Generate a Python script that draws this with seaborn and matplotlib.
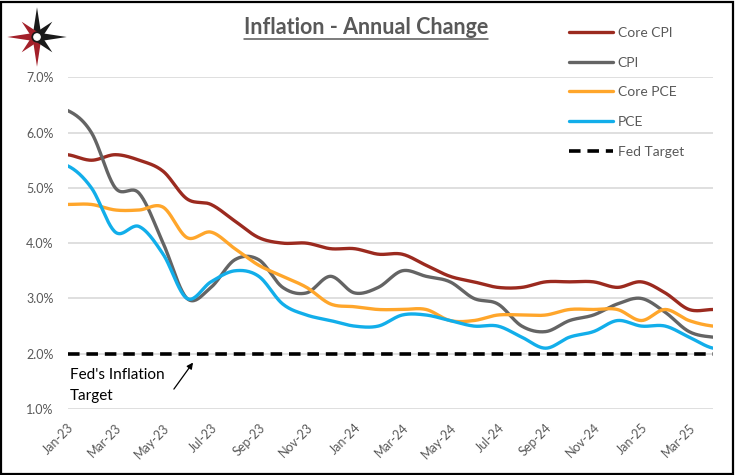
import numpy as np
import pandas as pd
import matplotlib
matplotlib.use("Agg")
import matplotlib.pyplot as plt
from matplotlib.lines import Line2D
from matplotlib.patches import Polygon, Circle, Rectangle
import seaborn as sns

# ---- data ----
months = ["Jan-23", "Feb-23", "Mar-23", "Apr-23", "May-23", "Jun-23", "Jul-23",
          "Aug-23", "Sep-23", "Oct-23", "Nov-23", "Dec-23", "Jan-24", "Feb-24",
          "Mar-24", "Apr-24", "May-24", "Jun-24", "Jul-24", "Aug-24", "Sep-24",
          "Oct-24", "Nov-24", "Dec-24", "Jan-25", "Feb-25", "Mar-25", "Apr-25"]
core_cpi = [5.6, 5.5, 5.6, 5.5, 5.3, 4.8, 4.7, 4.4, 4.1, 4.0, 4.0, 3.9, 3.9, 3.8,
            3.8, 3.6, 3.4, 3.3, 3.2, 3.2, 3.3, 3.3, 3.3, 3.2, 3.3, 3.1, 2.8, 2.8]
cpi = [6.4, 6.0, 5.0, 4.9, 4.0, 3.0, 3.2, 3.7, 3.7, 3.2, 3.1, 3.4, 3.1, 3.2,
       3.5, 3.4, 3.3, 3.0, 2.9, 2.5, 2.4, 2.6, 2.7, 2.9, 3.0, 2.75, 2.4, 2.3]
core_pce = [4.7, 4.7, 4.6, 4.6, 4.65, 4.1, 4.2, 3.9, 3.6, 3.4, 3.2, 2.9, 2.85, 2.8,
            2.8, 2.8, 2.6, 2.6, 2.7, 2.7, 2.7, 2.8, 2.8, 2.8, 2.6, 2.8, 2.6, 2.5]
pce = [5.4, 5.0, 4.2, 4.3, 3.8, 3.0, 3.3, 3.5, 3.4, 2.9, 2.7, 2.6, 2.5, 2.5,
       2.7, 2.7, 2.6, 2.5, 2.5, 2.3, 2.1, 2.3, 2.4, 2.6, 2.5, 2.5, 2.3, 2.1]
fed_target = [2.0] * len(months)

series_names = ["Core CPI", "CPI", "Core PCE", "PCE"]
series_vals = [core_cpi, cpi, core_pce, pce]
colors = {"Core CPI": "#9B2A1F", "CPI": "#646464", "Core PCE": "#FFA62B", "PCE": "#12AEEA"}
GRAY = "#595959"
DASH = (0, (3.2, 1.9))


# Excel-style smoothed line (Catmull-Rom through the points)
def smooth(y, n=24):
    y = np.asarray(y, dtype=float)
    xs, ys = [], []
    for i in range(len(y) - 1):
        p0 = y[i - 1] if i > 0 else y[i]
        p1, p2 = y[i], y[i + 1]
        p3 = y[i + 2] if i + 2 < len(y) else y[i + 1]
        t = np.linspace(0, 1, n, endpoint=False)
        ys.append(0.5 * ((2 * p1) + (-p0 + p2) * t + (2 * p0 - 5 * p1 + 4 * p2 - p3) * t ** 2
                         + (-p0 + 3 * p1 - 3 * p2 + p3) * t ** 3))
        xs.append(i + t)
    xs.append([len(y) - 1])
    ys.append([y[-1]])
    return np.concatenate(xs), np.concatenate(ys)


rows = []
for name, vals in zip(series_names, series_vals):
    xs, ys = smooth(vals)
    rows.append(pd.DataFrame({"Series": name, "x": xs, "y": ys}))
df = pd.concat(rows, ignore_index=True)
target_df = pd.DataFrame({"x": np.arange(len(months)), "y": fed_target})

sns.set_theme(style="white")
plt.rcParams["font.family"] = ["Lato", "DejaVu Sans"]

fig = plt.figure(figsize=(7.37, 4.75), dpi=100)
ax = fig.add_axes([67.5 / 737, 1 - 409 / 475, (713 - 67.5) / 737, (409 - 77.3) / 475])

ax.set_ylim(1, 7)
ax.set_xlim(0, len(months) - 1)
ax.set_yticks(np.arange(1, 7.01, 1))
ax.set_yticklabels([f"{v:.1f}%" for v in np.arange(1, 7.01, 1)])
ax.yaxis.grid(True, color="#D9D9D9", linewidth=1.2)
ax.set_axisbelow(True)
for s in ax.spines.values():
    s.set_visible(False)

sns.lineplot(data=target_df, x="x", y="y", ax=ax, color="black", linewidth=2.6,
             linestyle=DASH, legend=False)
sns.lineplot(data=df, x="x", y="y", hue="Series", palette=colors, hue_order=series_names,
             sort=False, estimator=None, linewidth=2.4, legend=False, ax=ax)
ax.lines[0].set_zorder(5)

ax.set_xticks(np.arange(0, len(months), 2))
ax.set_xticklabels(months[::2], rotation=45, ha="right", rotation_mode="anchor")
ax.tick_params(axis="x", pad=9, labelsize=9, labelcolor=GRAY, length=0)
ax.tick_params(axis="y", pad=10, labelsize=9, labelcolor=GRAY, length=0)
ax.set_xlabel("")
ax.set_ylabel("")

# legend
handles = [Line2D([], [], color=colors[n], linewidth=2.4) for n in series_names]
handles.append(Line2D([], [], color="black", linewidth=2.6, linestyle=DASH))
leg = fig.legend(handles, series_names + ["Fed Target"], loc="upper left",
                 bbox_to_anchor=(562 / 737, 1 - 20 / 475), frameon=False,
                 fontsize=10, labelcolor=GRAY, handlelength=3.2, handletextpad=0.3,
                 labelspacing=1.27, borderpad=0)

# annotation
ax.text(0.1, 1.61, "Fed's Inflation", fontsize=11, color="black", va="center", ha="left")
ax.text(0.1, 1.23, "Target", fontsize=11, color="black", va="center", ha="left")
ax.annotate("", xy=(5.25, 1.84), xytext=(4.45, 1.36),
            arrowprops=dict(arrowstyle="-|>", color="black", lw=0.9, mutation_scale=9,
                            shrinkA=0, shrinkB=0))

# title with underline
title = fig.text(366 / 737, 1 - 28 / 475, "Inflation - Annual Change", ha="center", va="center",
                 fontsize=15.5, fontweight="bold", color=GRAY)
fig.canvas.draw()
bb = title.get_window_extent().transformed(fig.transFigure.inverted())
fig.add_artist(Line2D([bb.x0, bb.x1], [bb.y0 - 0.002, bb.y0 - 0.002], color=GRAY,
                      linewidth=1.1, transform=fig.transFigure))

# compass-star logo
lax = fig.add_axes([2 / 737, 1 - 72 / 475, 70 / 737, 70 / 475])
lax.set_xlim(-1, 1)
lax.set_ylim(-1, 1)
lax.set_aspect("equal")
lax.axis("off")
red, blk = "#A3202A", "#1A1A1A"
arms = [(90, 0.85, blk), (0, 0.85, blk), (270, 0.85, red), (180, 0.85, red),
        (45, 0.62, blk), (315, 0.62, blk), (225, 0.62, red), (135, 0.62, red)]
for ang, r, c in arms:
    a = np.deg2rad(ang)
    w = 0.13
    pts = [(r * np.cos(a), r * np.sin(a)),
           (w * np.cos(a + np.pi / 2), w * np.sin(a + np.pi / 2)),
           (0, 0),
           (w * np.cos(a - np.pi / 2), w * np.sin(a - np.pi / 2))]
    lax.add_patch(Polygon(pts, closed=True, color=c, lw=0))
lax.add_patch(Circle((0, 0), 0.14, color=blk))
lax.add_patch(Circle((0, 0), 0.09, color="white"))

# outer frame
fig.add_artist(Rectangle((0.002, 0.003), 0.993, 0.993, transform=fig.transFigure,
                         fill=False, edgecolor="black", linewidth=1.6))

fig.savefig("out.png", dpi=100)
